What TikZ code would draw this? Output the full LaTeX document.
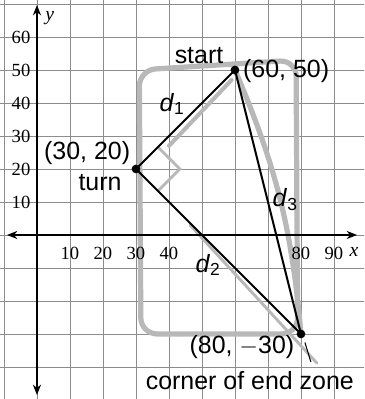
\documentclass[tikz,border=0pt]{standalone}
\usepackage{fontspec}
\setmainfont{Liberation Sans}
\newfontfamily\tickfont{Liberation Serif}
\usetikzlibrary{arrows.meta}

\tikzset{
  lbl/.style={font=\fontsize{21.5}{24}\selectfont, inner sep=1pt},
  tick/.style={font=\tickfont\fontsize{16}{18}\selectfont, inner sep=1pt},
  dot/.style={circle, fill=black, inner sep=0pt, minimum size=7.5pt},
  leg/.style={line width=1.7pt},
  field/.style={black!28, line width=4.5pt, line cap=round},
  axis/.style={line width=1.2pt, {Stealth[length=9pt,width=7pt]}-{Stealth[length=9pt,width=7pt]}}
}

\begin{document}
\begin{tikzpicture}[x=0.1cm, y=0.1cm]
\useasboundingbox (-11.2,-49.7) rectangle (99.1,71.2);
\clip (-11.2,-49.7) rectangle (99.1,71.2);

% grid
\draw[black!45, line width=0.7pt, step=10] (-20,-60) grid (110,80);

% football field
\draw[field, rounded corners=14pt] (31.5,-30) -- (31,50) -- (78.5,53) -- (79,-30) -- cycle;

\coordinate (start) at (60,50);
\coordinate (turn) at (30,20);
\coordinate (end) at (80,-30);

% gray shadows of the route
\draw[field, line width=3.5pt] (40,27) -- (59,47);
\draw[field, line width=4.5pt] (start) to[bend left=9] (end);
\draw[field, line width=2.5pt] (46.4,3) -- (84.8,-38.8);
\draw[field, line width=2.5pt, line cap=butt] (36.65,26.65) -- (43.3,20) -- (36.65,13.35);

% axes
\draw[axis] (0,-48.5) -- (0,69.7);
\draw[axis] (-9.1,0) -- (97,0);
\node[tick, font=\tickfont\itshape\fontsize{17}{18}\selectfont] (ylbl) at (3.9,65.8) {y};
\node[tick, font=\tickfont\itshape\fontsize{17}{18}\selectfont] (xlbl) at (96.1,-5.2) {x};
\foreach \v in {10,20,30,40,80,90}
  \node[tick] (x\v) at (\v,-5.5) {\v};
\foreach \v in {10,20,...,60}
  \node[tick, anchor=east] (y\v) at (-1.6,\v) {\v};

% route
\draw[leg] (turn) -- (start);
\draw[leg] (turn) -- (end);
\draw[leg] (start) -- (end);
\node[dot] (startdot) at (start) {};
\node[dot] (turndot) at (turn) {};
\node[dot] (enddot) at (end) {};

\coordinate (ledtop) at (81.2,-32.6);
\coordinate (ledbot) at (83,-38.5);
\draw[line width=0.9pt] (ledtop) -- (ledbot);

% labels
\node[lbl] (startlbl) at (49.1,54.5) {start};
\node[lbl] (startxy) at (75.5,49.7) {(60, 50)};
\node[lbl] (turnxy) at (15.2,24.8) {(30, 20)};
\node[lbl] (turnlbl) at (19.1,15.8) {turn};
\node[lbl] (dA) at (40.9,39.7) {\textit{d}\textsubscript{1}};
\node[lbl] (dB) at (51.8,-9.1) {\textit{d}\textsubscript{2}};
\node[lbl] (dC) at (75.2,10.6) {\textit{d}\textsubscript{3}};
\node[lbl] (endxy) at (62.1,-33.9) {(80, $-$30)};
\node[lbl] (endlbl) at (64.5,-44.2) {corner of end zone};
\end{tikzpicture}
\end{document}
